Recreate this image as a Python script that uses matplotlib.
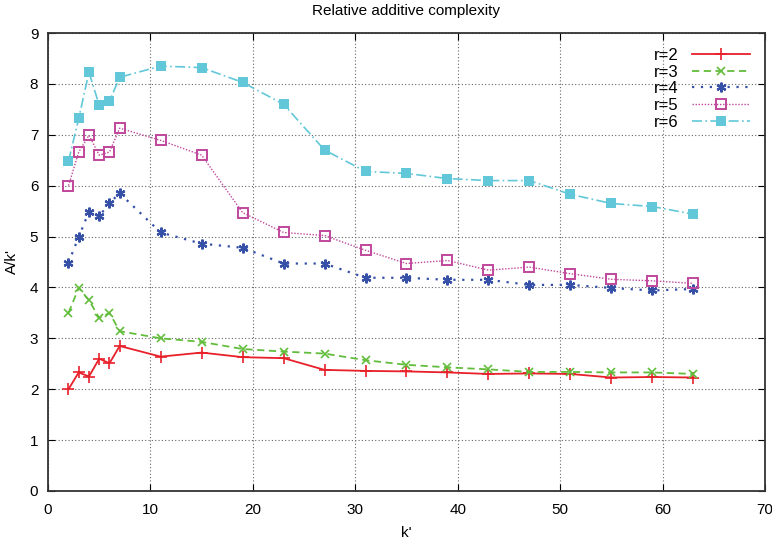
import matplotlib
matplotlib.use('Agg')
import matplotlib.pyplot as plt

plt.rcParams['font.family'] = ['Liberation Sans', 'DejaVu Sans']

k = [2, 3, 4, 5, 6, 7, 11, 15, 19, 23, 27, 31, 35, 39, 43, 47, 51, 55, 59, 63]

r2 = [2.00, 2.33, 2.25, 2.60, 2.51, 2.85, 2.64, 2.72, 2.63, 2.61,
      2.38, 2.36, 2.35, 2.33, 2.30, 2.31, 2.30, 2.23, 2.24, 2.23]
r3 = [3.50, 3.99, 3.75, 3.40, 3.50, 3.14, 3.00, 2.93, 2.79, 2.74,
      2.70, 2.57, 2.48, 2.43, 2.39, 2.34, 2.34, 2.33, 2.33, 2.30]
r4 = [4.49, 4.99, 5.49, 5.40, 5.66, 5.85, 5.08, 4.86, 4.78, 4.47,
      4.47, 4.19, 4.19, 4.15, 4.15, 4.05, 4.05, 3.99, 3.94, 3.97]
r5 = [6.00, 6.66, 6.99, 6.60, 6.66, 7.13, 6.89, 6.60, 5.47, 5.08,
      5.02, 4.73, 4.47, 4.53, 4.34, 4.40, 4.27, 4.16, 4.13, 4.08]
r6 = [6.48, 7.32, 8.23, 7.58, 7.66, 8.13, 8.35, 8.32, 8.03, 7.60,
      6.70, 6.28, 6.24, 6.14, 6.10, 6.10, 5.83, 5.65, 5.59, 5.44]

fig = plt.figure(figsize=(7.72, 5.41), dpi=100)
ax = fig.add_axes([48 / 772, 50 / 541, 717 / 772, 458 / 541])

ax.plot(k, r2, color='#e8202a', linestyle='-', lw=1.3, marker='+', ms=8, mew=1.2, label='r=2')
ax.plot(k, r3, color='#63bd3c', linestyle=(0, (4, 2.5)), lw=1.3, marker='x', ms=6, mew=1.2, label='r=3')
ax.plot(k, r4, color='#3550a6', linestyle=(0, (1, 3)), lw=1.6, marker=(6, 2, 0), ms=7, mew=1.6, label='r=4')
ax.plot(k, r5, color='#c0479c', linestyle=(0, (1, 1.2)), lw=1.0, marker='s', ms=7, mew=1.4,
        mfc='none', label='r=5')
ax.plot(k, r6, color='#62c8d9', linestyle=(0, (6, 2, 1, 2)), lw=1.2, marker='s', ms=7, mew=0,
        label='r=6')

ax.set_xlim(0, 70)
ax.set_ylim(0, 9)
ax.set_xticks(range(0, 71, 10))
ax.set_yticks(range(0, 10))
ax.grid(True, color='#666666', linestyle=(0, (1, 2)), lw=0.8)
ax.tick_params(direction='in', top=True, right=True, labelsize=11, length=5)
ax.tick_params(axis='x', pad=9)
ax.tick_params(axis='y', pad=7)
for s in ax.spines.values():
    s.set_linewidth(1.3)
    s.set_color('#333333')

ax.set_title('Relative additive complexity', fontsize=11, pad=13)
ax.set_xlabel("k'", fontsize=11, labelpad=6)
ax.set_ylabel("A/k'", fontsize=11, labelpad=8)

ax.legend(loc='upper right', frameon=False, markerfirst=False, fontsize=12,
          handlelength=3.5, labelspacing=0.1, borderaxespad=0.5)

fig.savefig('out.png', dpi=100)
